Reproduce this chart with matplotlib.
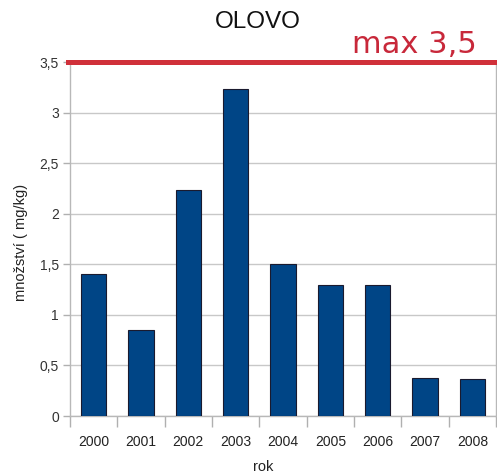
import matplotlib
matplotlib.use("Agg")
import matplotlib.pyplot as plt
import numpy as np

years = ["2000", "2001", "2002", "2003", "2004", "2005", "2006", "2007", "2008"]
lead = [1.40, 0.85, 2.23, 3.23, 1.50, 1.30, 1.30, 0.38, 0.37]
limit = 3.5
y_ticks = [0, 0.5, 1, 1.5, 2, 2.5, 3, 3.5]
y_tick_labels = ["0", "0,5", "1", "1,5", "2", "2,5", "3", "3,5"]

plt.rcParams["font.family"] = ["Liberation Sans", "DejaVu Sans"]

W, H = 497, 474
fig = plt.figure(figsize=(W / 100, H / 100), dpi=100)
ax = fig.add_axes([70 / W, (H - 416) / H, (496 - 70) / W, (416 - 62) / H])

x = np.arange(len(years))
ax.bar(x, lead, width=0.53, color="#004586", edgecolor="#1a1a2e", linewidth=0.8, zorder=3)

ax.set_xlim(-0.5, len(years) - 0.5)
ax.set_ylim(0, limit)
ax.set_yticks(y_ticks)
ax.set_yticklabels(y_tick_labels)
ax.set_xticks(x)
ax.set_xticklabels(years)
ax.set_xticks(np.arange(-0.5, len(years), 1), minor=True)
ax.tick_params(axis="x", which="major", length=0, pad=14, labelsize=10, labelcolor="#222222")
ax.tick_params(axis="x", which="minor", length=8, color="#b0b0b0", width=1)
ax.tick_params(axis="y", length=5, color="#b0b0b0", width=1, labelsize=10, labelcolor="#333333", pad=3)

ax.grid(axis="y", color="#c8c8c8", linewidth=1, zorder=0)
for side in ["left", "right", "bottom"]:
    ax.spines[side].set_color("#b8b8b8")
    ax.spines[side].set_linewidth(1)
ax.spines["top"].set_visible(False)

# limit line across the top of the plot
ax.axhline(limit, xmin=-0.005, xmax=1.01, color="#d0303a", linewidth=3.6, clip_on=False, zorder=5)

fig.text(477 / W, 1 - 53 / H, "max 3,5", color="#c8283a", fontsize=22, ha="right", va="baseline",
         family="DejaVu Sans")
fig.text(258 / W, 1 - 28.5 / H, "OLOVO", color="#111111", fontsize=17.5, ha="center", va="baseline")
fig.text(21 / W, 1 - 242 / H, "množství ( mg/kg)", rotation=90, fontsize=10.5, color="#222222",
         ha="center", va="center")
fig.text(263 / W, 1 - 471 / H, "rok", fontsize=10.5, color="#222222", ha="center", va="baseline")

fig.savefig("out.png", dpi=100)
